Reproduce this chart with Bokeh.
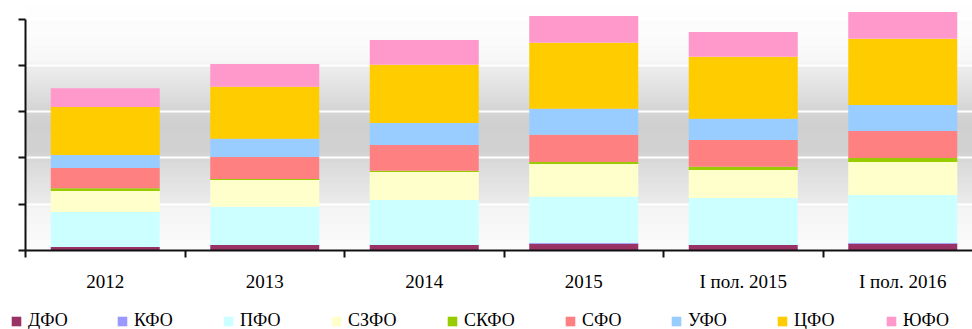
from bokeh.plotting import figure
from bokeh.models import (ColumnDataSource, Range1d, FixedTicker, Legend,
                          LegendItem, LinearAxis)
from bokeh.embed import file_html
from bokeh.resources import INLINE

# ---- data (units = one y-tick interval) ----
categories = ["2012", "2013", "2014", "2015", "I пол. 2015", "I пол. 2016"]
regions = ["ДФО", "КФО", "ПФО", "СЗФО", "СКФО", "СФО", "УФО", "ЦФО", "ЮФО"]
dfo  = [0.076, 0.119, 0.119, 0.147, 0.119, 0.147]
kfo  = [0.0,   0.0,   0.0,   0.021, 0.0,   0.021]
pfo  = [0.756, 0.827, 0.972, 0.994, 1.015, 1.031]
szfo = [0.453, 0.577, 0.604, 0.706, 0.605, 0.712]
skfo = [0.058, 0.021, 0.029, 0.043, 0.071, 0.087]
sfo  = [0.439, 0.475, 0.555, 0.590, 0.577, 0.583]
ufo  = [0.281, 0.396, 0.475, 0.562, 0.460, 0.562]
cfo  = [1.036, 1.123, 1.259, 1.425, 1.339, 1.432]
yufo = [0.404, 0.490, 0.533, 0.577, 0.533, 0.576]
colors = ["#993366", "#9999FF", "#CCFFFF", "#FFFFCC", "#99CC00",
          "#FF8080", "#99CCFF", "#FFCC00", "#FF99CC"]
y_ticks = [0, 1, 2, 3, 4, 5]

# ---- layout constants ----
W, H = 972, 329
AXIS_X_PX = 25          # y-axis position in pixels
BASE_Y_PX = 250         # baseline position in pixels from top
PX_PER_UNIT = 46.3
CAT_PX = 159.5
FONT = "Liberation Serif"
LEGEND_X = [10, 116, 222, 330, 446, 564, 670, 776, 885]
LEGEND_Y = -2

X_START = -AXIS_X_PX / CAT_PX
X_END = (W - AXIS_X_PX) / CAT_PX
Y_START = -(H - BASE_Y_PX) / PX_PER_UNIT
Y_END = BASE_Y_PX / PX_PER_UNIT

series = [dfo, kfo, pfo, szfo, skfo, sfo, ufo, cfo, yufo]
data = {"x": [i + 0.5 for i in range(len(categories))]}
for name, vals in zip(regions, series):
    data[name] = vals
source = ColumnDataSource(data)

p = figure(width=W, height=H, output_backend="svg", toolbar_location=None,
           x_range=Range1d(X_START, X_END), y_range=Range1d(Y_START, Y_END),
           x_axis_location=None, y_axis_location=None,
           min_border_left=0, min_border_right=0, min_border_top=0,
           min_border_bottom=0)
p.outline_line_color = None
p.background_fill_color = "white"
p.border_fill_color = "white"

# background vertical gradient of the plot area (style only)
stops = [(0, 255), (40, 250), (62, 244), (66, 232), (108, 200), (125, 192),
         (150, 194), (160, 204), (202, 228), (206, 240), (250, 251)]
def gray_at(px):
    for (a, ga), (b, gb) in zip(stops[:-1], stops[1:]):
        if a <= px <= b:
            return ga + (gb - ga) * (px - a) / (b - a)
    return 255
tops, bots, cols = [], [], []
for px in range(BASE_Y_PX):
    g = int(round(gray_at(px + 0.5)))
    tops.append((BASE_Y_PX - px) / PX_PER_UNIT)
    bots.append((BASE_Y_PX - px - 1) / PX_PER_UNIT)
    cols.append("#%02x%02x%02x" % (g, g, g))
bg = p.quad(left=0, right=X_END, top=tops, bottom=bots, fill_color=cols,
            line_color=None)
bg.level = "image"

rs = p.vbar_stack(regions, x="x", width=109 / CAT_PX, color=colors,
                  line_color=None, source=source)

# y axis (fixed at x = 0)
yax = LinearAxis(fixed_location=0, ticker=FixedTicker(ticks=y_ticks))
yax.bounds = (0, 5)
yax.major_label_overrides = {t: "" for t in y_ticks}
yax.major_tick_out = 7
yax.major_tick_in = 0
yax.minor_tick_line_color = None
yax.axis_line_width = 2
yax.major_tick_line_width = 2
yax.axis_line_color = "#111111"
yax.major_tick_line_color = "#111111"
p.add_layout(yax, "left")

# x axis (fixed at y = 0)
centers = [i + 0.5 for i in range(len(categories))]
xax = LinearAxis(fixed_location=0,
                 ticker=FixedTicker(ticks=centers,
                                    minor_ticks=list(range(len(categories) + 1))))
xax.bounds = (0, X_END)
xax.major_label_overrides = {c: lab for c, lab in zip(centers, categories)}
xax.major_tick_out = 0
xax.major_tick_in = 0
xax.minor_tick_out = 7
xax.minor_tick_in = 0
xax.minor_tick_line_width = 2
xax.minor_tick_line_color = "#111111"
xax.axis_line_width = 2
xax.axis_line_color = "#111111"
xax.major_label_standoff = 13
xax.major_label_text_font = FONT
xax.major_label_text_font_size = "19px"
xax.major_label_text_color = "black"
p.add_layout(xax, "below")

# grid
p.xgrid.visible = False
p.ygrid.ticker = FixedTicker(ticks=y_ticks)
p.ygrid.grid_line_color = "white"
p.ygrid.grid_line_width = 2

# legend: one entry per region at its own position
for name, r, lx in zip(regions, rs, LEGEND_X):
    leg = Legend(items=[LegendItem(label=name, renderers=[r])])
    leg.location = (lx, LEGEND_Y)
    leg.padding = 0
    leg.margin = 0
    leg.border_line_color = None
    leg.background_fill_alpha = 0
    leg.glyph_width = 12
    leg.glyph_height = 12
    leg.label_standoff = 6
    leg.label_height = 12
    leg.label_text_font = FONT
    leg.label_text_font_size = "18px"
    leg.label_text_color = "black"
    p.add_layout(leg)

open("out.html", "w").write(file_html(p, INLINE))
